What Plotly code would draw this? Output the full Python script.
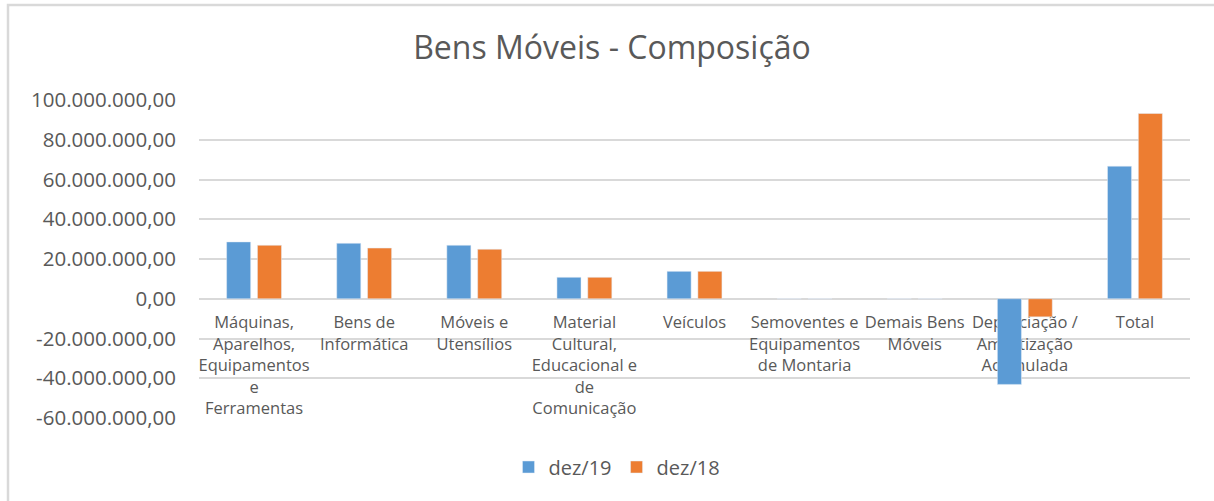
import plotly.graph_objects as go

categories = [
    "Máquinas,<br>Aparelhos,<br>Equipamentos<br>e<br>Ferramentas",
    "Bens de<br>Informática",
    "Móveis e<br>Utensílios",
    "Material<br>Cultural,<br>Educacional e<br>de<br>Comunicação",
    "Veículos",
    "Semoventes e<br>Equipamentos<br>de Montaria",
    "Demais Bens<br>Móveis",
    "Depreciação /<br>Amortização<br>Acumulada",
    "Total",
]
dez19 = [28.6e6, 27.9e6, 26.9e6, 10.8e6, 13.8e6, 0.0, 0.0, -43.1e6, 66.7e6]
dez18 = [26.9e6, 25.5e6, 24.9e6, 10.8e6, 13.8e6, 0.0, 0.0, -9.1e6, 93.2e6]
y_ticks = [-60e6, -40e6, -20e6, 0, 20e6, 40e6, 60e6, 80e6, 100e6]
y_min, y_max = -60e6, 100e6


def fmt(v):
    s = f"{abs(v):,.2f}".replace(",", "X").replace(".", ",").replace("X", ".")
    return ("-" if v < 0 else "") + s


y_ticktext = [fmt(v) for v in y_ticks]

FONT = "Open Sans, sans-serif"
GREY = "#595959"

fig = go.Figure()
fig.add_trace(go.Bar(x=categories, y=dez19, name="dez/19", marker_color="#5B9BD5"))
fig.add_trace(go.Bar(x=categories, y=dez18, name="dez/18", marker_color="#ED7D31"))

zero_pos = (0 - y_min) / (y_max - y_min)

W, H = 1214, 501
px_l, px_r, px_t, px_b = 199, 1190, 100, 418
w, h = px_r - px_l, px_b - px_t

fig.update_layout(
    width=W, height=H,
    margin=dict(l=px_l, r=W - px_r, t=px_t, b=H - px_b),
    paper_bgcolor="white", plot_bgcolor="white",
    barmode="group", bargap=0.44, bargroupgap=0.22,
    font=dict(family=FONT, color=GREY),
    title=dict(text="Bens Móveis - Composição", x=612 / W, xanchor="center",
               y=1 - 48 / H, yanchor="middle",
               font=dict(size=32, color=GREY, family=FONT)),
    legend=dict(orientation="h", x=(617 - px_l) / w, xanchor="center",
                y=-(467 - px_b) / h, yanchor="middle",
                font=dict(size=20, color=GREY), itemwidth=30, traceorder="normal"),
    xaxis=dict(anchor="free", position=zero_pos, showgrid=False, ticks="",
               tickfont=dict(size=16.5, color=GREY), showline=False, layer="below traces",
               ticklabelstandoff=12, tickangle=0),
    yaxis=dict(range=[y_min, y_max], tickvals=y_ticks, ticktext=y_ticktext,
               showgrid=True, gridcolor="#d9d9d9", gridwidth=1.5, zeroline=True,
               zerolinecolor="#d9d9d9", zerolinewidth=1.5,
               tickfont=dict(size=20.5, color=GREY), ticks="", ticklabelstandoff=22,
               showline=False),
)

# chart border
fig.add_shape(type="rect", xref="paper", yref="paper",
              x0=(8 - px_l) / w, x1=(1240 - px_l) / w,
              y0=-(530 - px_b) / h, y1=1 + (px_t - 5) / h,
              line=dict(color="#d9d9d9", width=2.5), fillcolor="rgba(0,0,0,0)", layer="below")

fig.write_html("out.html", config={"displayModeBar": False},
               post_script="document.body.style.margin='0';")
